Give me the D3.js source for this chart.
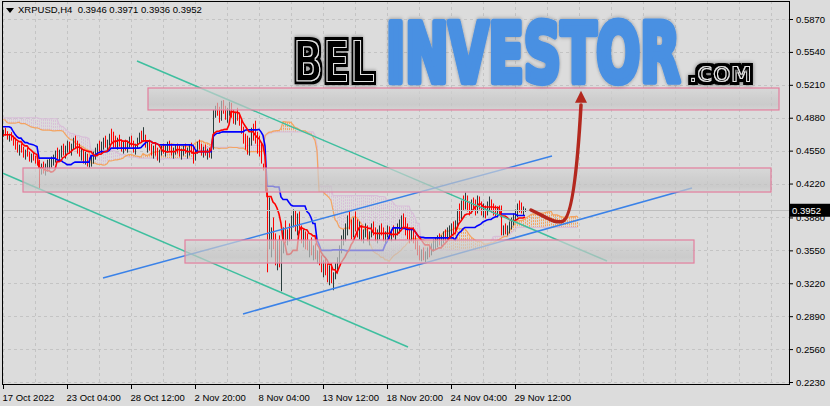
<!DOCTYPE html>
<html><head><meta charset="utf-8">
<script src="https://cdn.jsdelivr.net/npm/d3@7"></script>
<style>html,body{margin:0;padding:0;background:#dcdcdc;}svg{display:block;}</style>
</head><body><svg id="c" width="830" height="406"></svg>
<script>
// ---------------- DATA ----------------
const symbolTitle = "XRPUSD,H4  0.3946 0.3971 0.3936 0.3952";
const xTickBars = [0, 32, 64, 96, 128, 160, 192, 224, 256];
const xTickLabels = ["17 Oct 2022","23 Oct 04:00","28 Oct 12:00","2 Nov 20:00","8 Nov 04:00","13 Nov 12:00","18 Nov 20:00","24 Nov 04:00","29 Nov 12:00"];
const yTickLabels = ["0.5870","0.5540","0.5210","0.4880","0.4550","0.4220","0.3880","0.3550","0.3220","0.2890","0.2560","0.2230"];

// bars before the visible window (used only by the Ichimoku indicator)
const preHigh = [.5030,.5060,.5100,.4990,.4950,.4930,.4900,.4860,.4880,.4910,
 .4900,.4870,.4890,.4920,.4940,.4910,.4880,.4900,.4930,.4910,
 .4890,.4870,.4900,.4920,.4900,.4880,.4890,.4910,.4930,.4940,
 .4940,.4920,.4890,.4870,.4850,.4830,.4850,.4820,.4800,.4790,
 .4780,.4800,.4790,.4770,.4760,.4750,.4770,.4760,.4740,.4750,.4770,.4760];
const preLow = [.4920,.4940,.4900,.4850,.4800,.4760,.4720,.4660,.4700,.4760,
 .4780,.4750,.4760,.4790,.4810,.4780,.4760,.4770,.4800,.4790,
 .4770,.4750,.4780,.4800,.4790,.4760,.4770,.4790,.4810,.4820,
 .4800,.4790,.4760,.4740,.4730,.4700,.4720,.4700,.4680,.4670,
 .4660,.4680,.4670,.4660,.4650,.4640,.4660,.4650,.4640,.4650,.4660,.4670];

const firstOpen = 0.4720;
const high = [
 .4760,.4780,.4745,.4720,.4735,.4700,.4680,
 .4640,.4610,.4620,.4590,.4560,.4580,.4540,.4520,.4530,.4500,.4480,.4460,
 .4420,.4440,.4420,.4460,.4470,.4490,
 .4510,.4550,.4580,.4560,.4600,.4620,.4600,.4650,.4640,.4620,.4680,.4700,.4650,
 .4620,.4580,.4560,.4540,.4520,.4480,.4500,.4540,.4580,
 .4620,.4650,.4640,.4680,.4700,.4660,.4720,.4770,.4740,
 .4700,.4680,.4710,.4660,.4640,.4660,.4650,.4690,.4700,.4650,
 .4620,.4680,.4730,.4750,.4785,.4710,.4650,.4660,.4620,.4600,
 .4620,.4580,.4560,.4600,.4620,.4600,.4640,.4650,.4620,.4580,
 .4610,.4620,.4600,.4570,.4600,.4620,.4580,.4610,.4630,.4590,
 .4560,.4640,.4660,.4620,.4590,.4610,.4570,.4580,.4560,
 .4960,.5000,.5030,.4990,.5050,.5057,.5000,.4980,.5040,.5030,.4960,.4940,.4980,
 .4920,.4870,.4790,.4720,.4700,.4680,.4780,.4820,.4850,.4740,.4700,.4620,.4420,.4500,.4170,
 .4080,.3780,.3880,.3720,.3650,.3700,.3650,.3780,.3850,
 .3760,.3820,.3900,.3960,.3950,.3920,.3940,.3800,.3760,.3740,
 .3720,.3650,.3680,.3600,.3620,.3550,.3560,.3500,.3450,.3480,.3420,.3400,.3420,.3330,.3420,
 .3480,.3600,.3700,.3760,.3820,.3900,.3950,.3860,.3880,.3940,.3860,.3840,
 .3800,.3760,.3820,.3800,.3740,.3820,.3840,.3780,.3760,.3800,
 .3820,.3780,.3740,.3800,.3790,.3760,.3800,.3780,.3820,.3860,
 .3900,.3920,.3880,.3820,.3780,.3760,.3780,.3700,.3650,.3600,
 .3560,.3580,.3540,.3580,.3600,.3620,.3660,.3680,.3700,.3720,.3700,.3740,.3760,.3780,.3800,.3820,.3840,.3850,
 .3960,.4020,.4050,.4100,.4130,.4100,.4040,.4060,.4080,.4060,
 .4100,.4090,.4040,.4020,.4000,.4040,.4090,.4060,.4020,.4000,
 .3990,.4000,.4000,.3800,.3820,.3800,.3840,.3880,.3920,.3960,
 .4020,.4050,.4030,.3990,.3971];
const low = [
 .4690,.4700,.4660,.4640,.4650,.4600,.4560,
 .4530,.4500,.4530,.4480,.4460,.4490,.4440,.4430,.4450,.4420,.4400,.4170,
 .4310,.4320,.4300,.4340,.4360,.4380,
 .4400,.4430,.4460,.4440,.4480,.4500,.4470,.4530,.4520,.4500,.4560,.4570,.4520,
 .4490,.4450,.4420,.4410,.4390,.4380,.4390,.4420,.4460,
 .4500,.4540,.4520,.4560,.4580,.4540,.4600,.4630,.4580,
 .4580,.4560,.4590,.4540,.4520,.4550,.4530,.4580,.4590,.4530,
 .4510,.4570,.4620,.4640,.4640,.4580,.4530,.4550,.4500,.4470,
 .4500,.4450,.4430,.4500,.4520,.4490,.4540,.4550,.4500,.4470,
 .4510,.4520,.4490,.4460,.4500,.4520,.4470,.4500,.4520,.4420,
 .4450,.4520,.4560,.4500,.4480,.4500,.4460,.4480,.4470,
 .4560,.4880,.4900,.4830,.4850,.4920,.4860,.4830,.4900,.4880,.4820,.4810,.4850,
 .4800,.4720,.4620,.4560,.4510,.4500,.4600,.4650,.4620,.4520,.4490,.4420,.4350,.4140,.3330,
 .3560,.3480,.3560,.3400,.3350,.3380,.3140,.3520,.3620,
 .3600,.3640,.3660,.3780,.3740,.3700,.3720,.3620,.3580,.3560,
 .3550,.3480,.3500,.3450,.3460,.3420,.3400,.3330,.3280,.3300,.3230,.3200,.3220,.3150,.3260,
 .3320,.3420,.3520,.3600,.3640,.3700,.3760,.3660,.3680,.3740,.3680,.3660,
 .3640,.3620,.3680,.3640,.3600,.3680,.3700,.3640,.3620,.3660,
 .3700,.3640,.3600,.3680,.3660,.3640,.3680,.3650,.3700,.3720,
 .3760,.3780,.3700,.3660,.3620,.3640,.3620,.3560,.3500,.3450,
 .3440,.3450,.3430,.3460,.3480,.3500,.3540,.3560,.3580,.3600,.3590,.3620,.3640,.3650,.3680,.3700,.3700,.3720,
 .3780,.3840,.3860,.3950,.3960,.3940,.3900,.3920,.3950,.3900,
 .3920,.3960,.3900,.3880,.3870,.3900,.3950,.3930,.3900,.3890,
 .3880,.3900,.3700,.3700,.3710,.3700,.3720,.3760,.3800,.3840,
 .3880,.3930,.3920,.3900,.3936];
const close = [
 .4735,.4720,.4690,.4700,.4665,.4620,.4590,
 .4560,.4580,.4550,.4510,.4530,.4500,.4470,.4490,.4460,.4440,.4430,.4380,
 .4400,.4360,.4410,.4430,.4450,.4470,
 .4480,.4520,.4500,.4540,.4570,.4540,.4580,.4610,.4550,.4600,.4640,.4600,.4560,
 .4510,.4530,.4460,.4500,.4420,.4450,.4480,.4510,.4560,
 .4600,.4580,.4620,.4650,.4610,.4640,.4690,.4660,.4620,
 .4600,.4650,.4620,.4570,.4600,.4580,.4620,.4660,.4610,.4560,
 .4590,.4650,.4700,.4670,.4680,.4600,.4620,.4570,.4530,.4560,
 .4520,.4480,.4540,.4580,.4550,.4570,.4610,.4590,.4530,.4550,
 .4590,.4560,.4520,.4550,.4580,.4540,.4560,.4590,.4550,.4480,
 .4530,.4600,.4580,.4540,.4560,.4520,.4540,.4510,.4540,
 .4930,.4970,.4940,.4870,.5010,.4960,.4900,.4950,.4990,.4920,.4860,.4900,.4880,
 .4820,.4750,.4660,.4590,.4560,.4640,.4740,.4700,.4660,.4560,.4530,.4420,.4400,.4170,.3450,
 .3650,.3720,.3620,.3450,.3580,.3420,.3560,.3740,.3680,
 .3720,.3680,.3860,.3900,.3780,.3880,.3760,.3660,.3700,.3600,
 .3580,.3620,.3520,.3560,.3480,.3520,.3430,.3370,.3400,.3320,.3280,.3350,.3250,.3300,.3380,
 .3450,.3560,.3660,.3720,.3780,.3860,.3800,.3720,.3840,.3780,.3720,.3800,
 .3700,.3740,.3760,.3680,.3720,.3790,.3740,.3700,.3740,.3770,
 .3730,.3680,.3720,.3760,.3700,.3740,.3720,.3760,.3780,.3800,
 .3860,.3820,.3740,.3700,.3660,.3720,.3650,.3600,.3540,.3500,
 .3520,.3480,.3500,.3550,.3520,.3590,.3620,.3640,.3670,.3650,.3680,.3710,.3690,.3750,.3760,.3790,.3740,.3820,
 .3920,.3880,.4010,.4000,.4060,.3980,.3940,.4020,.4000,.3930,
 .4050,.4000,.3940,.3960,.3910,.4000,.4020,.3970,.3950,.3930,
 .3960,.3920,.3740,.3780,.3740,.3780,.3820,.3860,.3900,.3930,
 .3990,.3960,.3940,.3946,.3952];

// drawn objects (bar index, price)
const zoneBars   = [[72.5, 388], [10, 384], [91, 345.5]];
const zonePrices = [[0.5178, 0.4958], [0.4376, 0.4135], [0.3654, 0.3423]];
const tealLines = [[[67, 0.5449], [302, 0.3443]], [[-1.5, 0.4336], [202.5, 0.2581]]];
const blueLines = [[[50, 0.3273], [274.5, 0.4496]], [[120, 0.2912], [344.5, 0.4175]]];
const arrowPts = [[264, 0.3955], [272.5, 0.3875], [276, 0.3814], [280, 0.3844], [285, 0.3885], [287.5, 0.4465], [289, 0.5008]];
const arrowTip = [289, 0.5150];

// ---------------- CHART ----------------
const svg = d3.select("#c");
const W = 830, Hh = 406;
const pL = 2, pR = 789, pT = 1, pB = 384;
const x = d3.scaleLinear().domain([0, 261]).range([3, 525]);
const y = d3.scaleLinear().domain([0.223, 0.587]).range([382, 19]);
const F = "'Liberation Sans', Arial, sans-serif";

svg.append("rect").attr("width", W).attr("height", Hh).attr("fill", "#dcdcdc");
const defs = svg.append("defs");
defs.append("clipPath").attr("id", "clip").append("rect")
  .attr("x", pL).attr("y", pT).attr("width", pR - pL).attr("height", pB - pT);
const grad = defs.append("linearGradient").attr("id", "zg").attr("x1", 0).attr("x2", 0).attr("y1", 0).attr("y2", 1);
[[0, "#d6d6d6"], [0.45, "#c9c9c9"], [0.75, "#c3c3c3"], [1, "#cfcfcf"]].forEach(s =>
  grad.append("stop").attr("offset", s[0]).attr("stop-color", s[1]));

// soft shadow for the blue word
const sh = defs.append("filter").attr("id", "sh").attr("x", "-10%").attr("y", "-20%").attr("width", "120%").attr("height", "140%");
sh.append("feDropShadow").attr("dx", 0).attr("dy", 0).attr("stdDeviation", 2).attr("flood-color", "#000").attr("flood-opacity", 0.35);

// outlined black lettering: dilated black body, thin light ring at glyph edge, black core, soft shadow
const ol = defs.append("filter").attr("id", "ol").attr("x", "-10%").attr("y", "-25%").attr("width", "120%").attr("height", "150%");
ol.append("feMorphology").attr("in", "SourceAlpha").attr("operator", "dilate").attr("radius", 2.6).attr("result", "outer");
ol.append("feMorphology").attr("in", "SourceAlpha").attr("operator", "erode").attr("radius", 1).attr("result", "inner");
ol.append("feComposite").attr("in", "SourceAlpha").attr("in2", "inner").attr("operator", "out").attr("result", "ring");
ol.append("feFlood").attr("flood-color", "#e4e4e4").attr("result", "wc");
ol.append("feComposite").attr("in", "wc").attr("in2", "ring").attr("operator", "in").attr("result", "wring");
ol.append("feGaussianBlur").attr("in", "outer").attr("stdDeviation", 2).attr("result", "bl");
const ct = ol.append("feComponentTransfer").attr("in", "bl").attr("result", "shadow");
ct.append("feFuncA").attr("type", "linear").attr("slope", 0.45);
const mg = ol.append("feMerge");
["shadow", "outer", "wring", "inner"].forEach(n => mg.append("feMergeNode").attr("in", n));

const plot = svg.append("g").attr("clip-path", "url(#clip)");

// grid
const gridBars = d3.range(0, 400, 16);
plot.append("g").selectAll("line").data(gridBars).join("line")
  .attr("x1", d => Math.round(x(d)) + 0.5).attr("x2", d => Math.round(x(d)) + 0.5)
  .attr("y1", pT).attr("y2", pB)
  .attr("stroke", "#c4c4c4").attr("stroke-dasharray", "3,3");
plot.append("g").selectAll("line").data(yTickLabels.map(Number)).join("line")
  .attr("x1", pL).attr("x2", pR)
  .attr("y1", d => Math.round(y(d)) + 0.5).attr("y2", d => Math.round(y(d)) + 0.5)
  .attr("stroke", "#c4c4c4").attr("stroke-dasharray", "3,3");

// Ichimoku
const HA = preHigh.concat(high), LA = preLow.concat(low), P = preHigh.length;
function mid(g, n) {
  const s = Math.max(0, g - n + 1);
  return (d3.max(HA.slice(s, g + 1)) + d3.min(LA.slice(s, g + 1))) / 2;
}
const tenkan = high.map((_, i) => mid(i + P, 9));
const kijun = high.map((_, i) => mid(i + P, 26));
const spans = [];
for (let g = 0; g < HA.length; g++) {
  const j = g - P + 26;
  if (j < 0) continue;
  spans.push({ j, a: (mid(g, 9) + mid(g, 26)) / 2, b: mid(g, 52) });
}
const cloud = plot.append("g");
cloud.selectAll("line").data(spans).join("line")
  .attr("x1", d => Math.round(x(d.j)) + 0.5).attr("x2", d => Math.round(x(d.j)) + 0.5)
  .attr("y1", d => y(d.a)).attr("y2", d => y(d.b))
  .attr("stroke", d => d.a >= d.b ? "#f4a460" : "#d8bfd8")
  .attr("stroke-dasharray", "2,1").attr("stroke-width", 1);
const lineSA = d3.line().x(d => x(d.j)).y(d => y(d.a));
const lineSB = d3.line().x(d => x(d.j)).y(d => y(d.b));
cloud.append("path").attr("d", lineSB(spans)).attr("fill", "none").attr("stroke", "#d8bfd8").attr("stroke-width", 1.2);
cloud.append("path").attr("d", lineSA(spans)).attr("fill", "none").attr("stroke", "#f4a460").attr("stroke-width", 1.2);

// bars
const bars = high.map((h, i) => ({ i, h, l: low[i], o: i ? close[i - 1] : firstOpen, c: close[i] }));
plot.append("g").selectAll("line").data(bars).join("line")
  .attr("x1", d => Math.round(x(d.i)) + 0.5).attr("x2", d => Math.round(x(d.i)) + 0.5)
  .attr("y1", d => y(d.h)).attr("y2", d => y(d.l))
  .attr("stroke", d => d.c >= d.o ? "#2a3c3c" : "#ff0000").attr("stroke-width", 1);

const ln = d3.line().x((d, i) => x(i)).y(d => y(d));
plot.append("path").attr("d", ln(kijun)).attr("fill", "none").attr("stroke", "#0000ff").attr("stroke-width", 1.6);
plot.append("path").attr("d", ln(tenkan)).attr("fill", "none").attr("stroke", "#ff0000").attr("stroke-width", 1.6);

// last price line
const lastC = close[close.length - 1];
plot.append("line").attr("x1", pL).attr("x2", pR)
  .attr("y1", Math.round(y(lastC)) + 0.5).attr("y2", Math.round(y(lastC)) + 0.5)
  .attr("stroke", "#bdbdbd").attr("stroke-width", 1);

// trend lines
const tl = plot.append("g");
tealLines.forEach(s => tl.append("line")
  .attr("x1", x(s[0][0])).attr("y1", y(s[0][1])).attr("x2", x(s[1][0])).attr("y2", y(s[1][1]))
  .attr("stroke", "#3fbf9f").attr("stroke-width", 1.5));
blueLines.forEach(s => tl.append("line")
  .attr("x1", x(s[0][0])).attr("y1", y(s[0][1])).attr("x2", x(s[1][0])).attr("y2", y(s[1][1]))
  .attr("stroke", "#3a82e8").attr("stroke-width", 1.5));

// zones
zoneBars.forEach((b, k) => {
  const p = zonePrices[k];
  plot.append("rect")
    .attr("x", x(b[0])).attr("y", y(p[0]))
    .attr("width", x(b[1]) - x(b[0])).attr("height", y(p[1]) - y(p[0]))
    .attr("fill", "url(#zg)").attr("fill-opacity", 0.68)
    .attr("stroke", "#e37e9d").attr("stroke-width", 1.2);
});

// frame + axes
svg.append("rect").attr("x", pL + 0.5).attr("y", pT + 0.5).attr("width", pR - pL).attr("height", pB - pT)
  .attr("fill", "none").attr("stroke", "#000").attr("stroke-width", 1);

const ya = svg.append("g").attr("transform", `translate(${pR},0)`)
  .call(d3.axisRight(y).tickValues(yTickLabels.map(Number)).tickFormat((d, i) => yTickLabels[i]).tickSize(4).tickPadding(3));
ya.select(".domain").remove();
ya.selectAll("line").attr("stroke", "#000");
ya.selectAll("text").attr("font-family", F).attr("font-size", 9.5).attr("fill", "#000");

const xa = svg.append("g").attr("transform", `translate(0,${pB})`)
  .call(d3.axisBottom(x).tickValues(xTickBars).tickFormat((d, i) => xTickLabels[i]).tickSize(5).tickPadding(3));
xa.select(".domain").remove();
xa.selectAll("line").attr("stroke", "#000");
xa.selectAll("text").attr("font-family", F).attr("font-size", 9.5).attr("fill", "#000")
  .attr("text-anchor", "start").attr("dx", -1).attr("dy", "0.9em");

// price tag
const py = y(lastC);
svg.append("rect").attr("x", 790).attr("y", py - 6.5).attr("width", 40).attr("height", 13).attr("fill", "#000");
svg.append("text").attr("x", 792).attr("y", py + 3.5).attr("font-family", F).attr("font-size", 9.5)
  .attr("fill", "#fff").text(d3.format(".4f")(lastC));

// title
svg.append("path").attr("d", "M6,8 L14,8 L10,13 Z").attr("fill", "#000");
svg.append("text").attr("x", 18).attr("y", 12.5).attr("font-family", F).attr("font-size", 9.5)
  .attr("fill", "#000").style("white-space", "pre").text(symbolTitle);

// logo (watermark)
const logo = svg.append("g");
function word(t, x0, base, w, fs, family, attrs) {
  const e = logo.append("text").attr("x", 0).attr("y", 0)
    .attr("font-family", family).attr("font-weight", "bold").attr("font-size", fs).text(t);
  Object.entries(attrs).forEach(([k, v]) => e.attr(k, v));
  const nat = e.node().getComputedTextLength();
  e.attr("transform", `translate(${x0},${base}) scale(${w / nat},1)`);
  return e;
}
word("BEL", 293, 82, 82, 57, "'DejaVu Sans', sans-serif", { fill: "#000", filter: "url(#ol)" });
word("INVESTOR", 386, 82, 294, 82, "'Liberation Sans Narrow','DejaVu Sans Condensed','Liberation Sans',sans-serif",
  { fill: "#4a90e2", stroke: "#4a90e2", "stroke-width": 6.5, "stroke-linejoin": "round", filter: "url(#sh)" });
word(".COM", 689, 82, 63, 22, "'DejaVu Sans', sans-serif", { fill: "#000", filter: "url(#ol)" });

// arrow
const ap = arrowPts.map(p => [x(p[0]), y(p[1])]);
const arrowD = `M${ap[0]} C${ap[1]} ${ap[2]} ${ap[3]} C${ap[4]} ${ap[5]} ${ap[6]}`;
svg.append("path").attr("d", arrowD).attr("fill", "none").attr("stroke", "#b3281e").attr("stroke-width", 3.5).attr("stroke-linecap", "round");
const tx = x(arrowTip[0]), ty = y(arrowTip[1]);
svg.append("path").attr("d", `M${tx},${ty} L${tx - 6},${ty + 12} L${tx + 6},${ty + 12} Z`).attr("fill", "#b3281e");
</script></body></html>
